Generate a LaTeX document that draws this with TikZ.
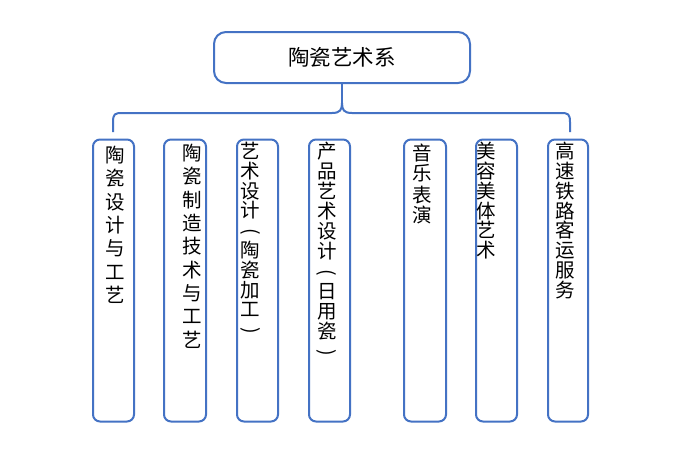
\documentclass[tikz,border=0pt]{standalone}
\usepackage{graphicx}
\usepackage{fontspec}
\setmainfont{Noto Sans CJK SC}
\definecolor{lineblue}{RGB}{68,114,196}
\newcommand{\vopen}{\rotatebox[origin=c]{-90}{(}}
\newcommand{\vclose}{\rotatebox[origin=c]{-90}{)}}
\begin{document}
\begin{tikzpicture}[x=1pt,y=-1pt,
  box/.style={draw=lineblue,line width=2pt,rounded corners=7pt,fill=white,inner sep=0pt,minimum height=282pt},
  topbox/.style={draw=lineblue,line width=2pt,rounded corners=12pt,fill=white,inner sep=0pt,minimum width=256pt,minimum height=51pt,font=\fontsize{21.5}{24}\selectfont},
  vtext/.style={anchor=north,inner sep=0pt,align=center},
  link/.style={draw=lineblue,line width=2pt}]
\useasboundingbox (0,0) rectangle (693,458);
\fill[white] (0,0) rectangle (693,458);

\node[topbox] (top) at (342,57.5) {陶瓷艺术系};

\node[box,minimum width=41pt] (b1) at (113.5,280.5) {};
\node[box,minimum width=42pt] (b2) at (185,280.5) {};
\node[box,minimum width=41pt] (b3) at (257.5,280.5) {};
\node[box,minimum width=41pt] (b4) at (329.5,280.5) {};
\node[box,minimum width=42pt] (b5) at (425,280.5) {};
\node[box,minimum width=41pt] (b6) at (496.5,280.5) {};
\node[box,minimum width=40pt] (b7) at (568,280.5) {};

\node[vtext,font=\fontsize{19.5}{23.3}\selectfont] (t1) at (115,146) {陶\\瓷\\设\\计\\与\\工\\艺};
\node[vtext,font=\fontsize{19.5}{23.3}\selectfont] (t2) at (192.5,144) {陶\\瓷\\制\\造\\技\\术\\与\\工\\艺};
\node[vtext,font=\fontsize{19.5}{19.8}\selectfont] (t3) at (250.5,142) {艺\\术\\设\\计\\\vopen\\陶\\瓷\\加\\工\\\vclose};
\node[vtext,font=\fontsize{19.5}{20}\selectfont] (t4) at (327,142) {产\\品\\艺\\术\\设\\计\\\vopen\\日\\用\\瓷\\\vclose};
\node[vtext,font=\fontsize{19.5}{20}\selectfont] (t5) at (422,144) {音\\乐\\[2pt]表\\演};
\node[vtext,font=\fontsize{19.5}{19.8}\selectfont] (t6) at (486.3,142) {美\\容\\美\\体\\艺\\术};
\node[vtext,font=\fontsize{19.5}{19.8}\selectfont] (t7) at (565.3,142) {高\\速\\铁\\路\\客\\运\\服\\务};

\coordinate (cusp) at (342,103);
\coordinate (lend) at (113,132);
\coordinate (rend) at (570,132);
\draw[link] (top.south) -- (cusp);
\draw[link] (lend) -- (113,122) .. controls (113,114) and (115,113) .. (122,113) -- (332,113) .. controls (340,113) and (342,110) .. (cusp);
\draw[link] (rend) -- (570,122) .. controls (570,114) and (568,113) .. (561,113) -- (352,113) .. controls (344,113) and (342,110) .. (cusp);
\end{tikzpicture}
\end{document}
